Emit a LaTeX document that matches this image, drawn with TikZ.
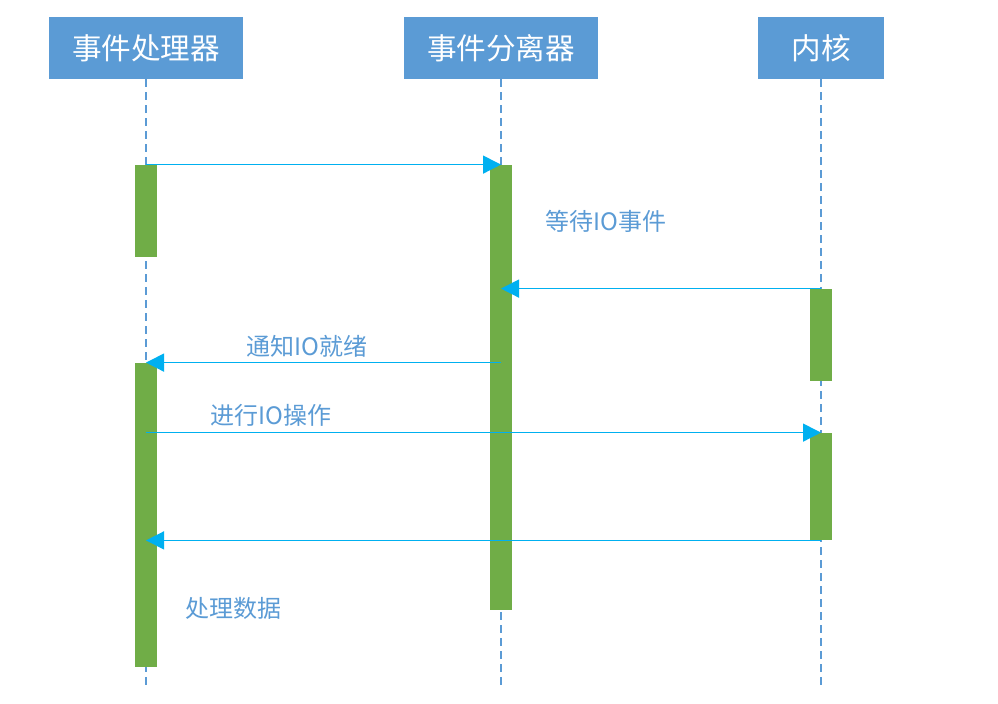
\documentclass[tikz,border=0pt]{standalone}
\usepackage{fontspec}
\setmainfont{Noto Sans CJK SC}
\usetikzlibrary{arrows.meta}
\definecolor{headblue}{HTML}{5B9BD5}
\definecolor{msgblue}{HTML}{00B0F0}
\definecolor{bargreen}{HTML}{70AD47}
\tikzset{
  head/.style={fill=headblue, text=white, inner sep=0pt, minimum height=31pt, font=\fontsize{14.8}{16}\selectfont},
  life/.style={draw=headblue, line width=0.6pt, dash pattern=on 4pt off 2.5pt},
  actbar/.style={fill=bargreen, inner sep=0pt, minimum width=11pt},
  msg/.style={draw=msgblue, line width=0.7pt, -{Triangle[length=9pt,width=9pt]}},
  note/.style={text=headblue, anchor=west, inner sep=0pt, font=\fontsize{12}{13}\selectfont}
}
\begin{document}
\begin{tikzpicture}[x=0.5pt, y=-0.5pt]
      \useasboundingbox (0,0) rectangle (998,703);
      %
      % participants
      \node[head, minimum width=97pt] (handler) at (146,48) {事件处理器};
      \node[head, minimum width=97pt] (demux) at (501,48) {事件分离器};
      \node[head, minimum width=63pt] (kernel) at (821,48) {内核};
      %
      % lifelines
      \coordinate (handlerEnd) at (146,688);
      \coordinate (demuxEnd) at (501,688);
      \coordinate (kernelEnd) at (821,688);
      \draw[life] (handler.south) -- (handlerEnd);
      \draw[life] (demux.south) -- (demuxEnd);
      \draw[life] (kernel.south) -- (kernelEnd);
      %
      % activation bars
      \node[actbar, minimum height=46pt] (h1) at (146,211) {};
      \node[actbar, minimum height=152pt] (h2) at (146,515) {};
      \node[actbar, minimum height=222.5pt] (d1) at (501,387.5) {};
      \node[actbar, minimum height=46pt] (k1) at (821,335) {};
      \node[actbar, minimum height=53.5pt] (k2) at (821,486.5) {};
      %
      % messages
      \draw[msg] (h1.north) -- (d1.north);
      \draw[msg] (k1.north) -- (k1.north -| d1);
      \draw[msg] (h2.north -| d1) -- (h2.north);
      \draw[msg] (k2.north -| h2) -- (k2.north);
      \draw[msg] (k2.south) -- (k2.south -| h2);
      %
      % labels
      \node[note] (wait) at (545,221) {等待IO事件};
      \node[note] (ready) at (246,346) {通知IO就绪};
      \node[note] (doio) at (210,415) {进行IO操作};
      \node[note] (proc) at (185,608) {处理数据};
      %
    \end{tikzpicture}
\end{document}
